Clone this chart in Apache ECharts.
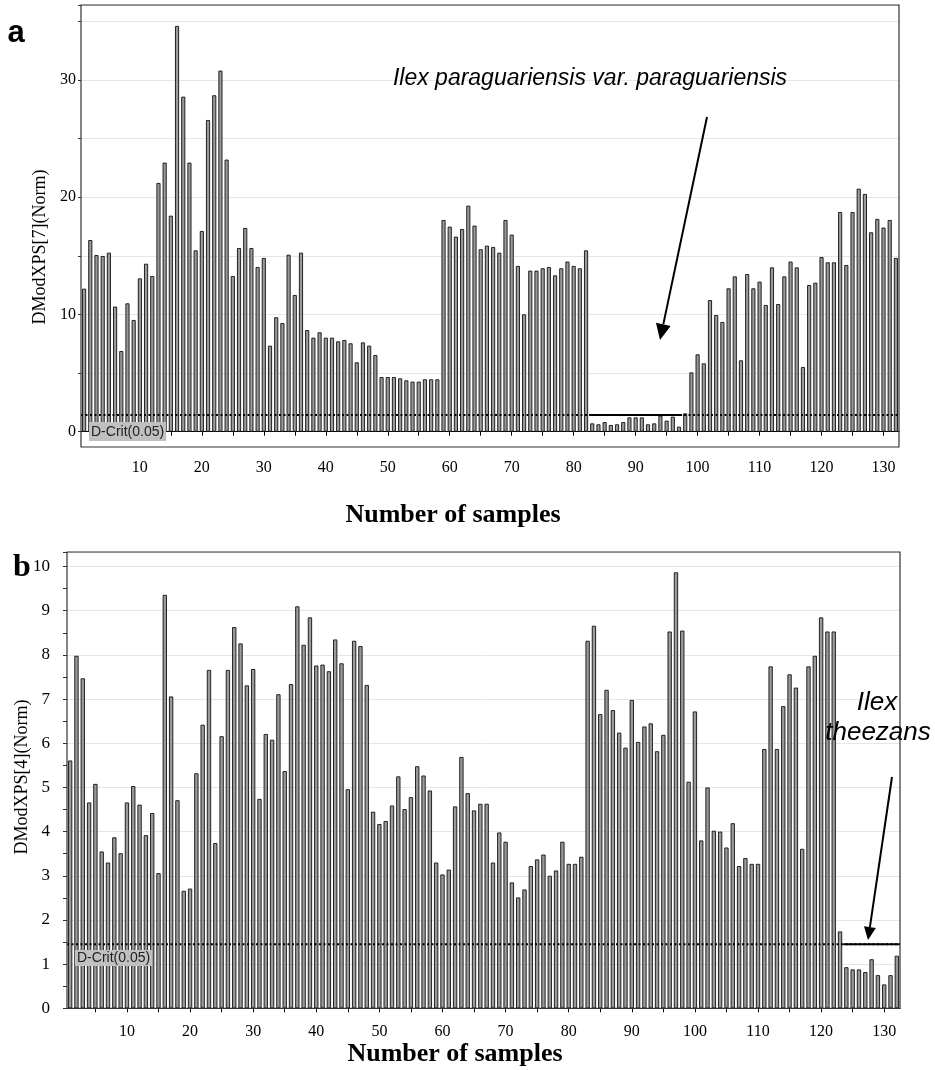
<!DOCTYPE html>
<html>
<head>
<meta charset="utf-8">
<script src="https://cdn.jsdelivr.net/npm/echarts@6/dist/echarts.min.js"></script>
<style>
  html, body { margin: 0; padding: 0; background: #fff; }
  #chart { width: 935px; height: 1070px; }
</style>
</head>
<body>
<div id="chart"></div>
<script>
// Samples 1..132 on the horizontal axis
const sampleCount = 132;
const samples = Array.from({ length: sampleCount }, (_, i) => String(i + 1));

// Panel a: DModXPS[7](Norm) per sample
const dmodA = [
  12.20, 16.35, 15.07, 14.99, 15.27, 10.67, 6.88, 10.95, 9.53, 13.08,
  14.33, 13.28, 21.22, 22.95, 18.43, 34.61, 28.58, 22.95, 15.47, 17.12,
  26.59, 28.70, 30.80, 23.21, 13.28, 15.67, 17.38, 15.67, 14.05, 14.82,
  7.34, 9.76, 9.27, 15.10, 11.66, 15.27, 8.67, 8.02, 8.48, 8.02,
  8.02, 7.71, 7.82, 7.54, 5.92, 7.62, 7.34, 6.54, 4.66, 4.66,
  4.66, 4.55, 4.38, 4.27, 4.27, 4.47, 4.47, 4.47, 18.06, 17.49,
  16.64, 17.29, 19.28, 17.58, 15.56, 15.87, 15.76, 15.27, 18.06, 16.81,
  14.14, 10.01, 13.74, 13.74, 13.94, 14.05, 13.34, 13.94, 14.51, 14.14,
  13.94, 15.47, 0.71, 0.63, 0.82, 0.57, 0.63, 0.82, 1.22, 1.22,
  1.22, 0.63, 0.71, 1.37, 0.94, 1.28, 0.43, 1.56, 5.06, 6.60,
  5.83, 11.23, 9.95, 9.36, 12.23, 13.25, 6.09, 13.45, 12.23, 12.80,
  10.81, 14.02, 10.89, 13.25, 14.51, 14.02, 5.52, 12.51, 12.71, 14.90,
  14.45, 14.45, 18.74, 14.22, 18.74, 20.73, 20.28, 17.01, 18.15, 17.41,
  18.06, 14.82
];

// Panel b: DModXPS[4](Norm) per sample
const dmodB = [
  5.61, 7.98, 7.47, 4.66, 5.08, 3.55, 3.30, 3.87, 3.51, 4.66,
  5.03, 4.61, 3.92, 4.42, 3.06, 9.36, 7.06, 4.71, 2.66, 2.71,
  5.32, 6.42, 7.66, 3.74, 6.16, 7.66, 8.63, 8.26, 7.31, 7.68,
  4.74, 6.21, 6.08, 7.11, 5.37, 7.34, 9.10, 8.23, 8.85, 7.76,
  7.78, 7.63, 8.35, 7.81, 4.96, 8.32, 8.20, 7.32, 4.45, 4.17,
  4.24, 4.59, 5.25, 4.51, 4.78, 5.48, 5.27, 4.93, 3.30, 3.03,
  3.14, 4.57, 5.69, 4.87, 4.48, 4.63, 4.63, 3.30, 3.98, 3.77,
  2.85, 2.51, 2.69, 3.22, 3.37, 3.48, 3.00, 3.12, 3.77, 3.27,
  3.27, 3.43, 8.32, 8.66, 6.66, 7.21, 6.75, 6.24, 5.90, 6.98,
  6.03, 6.38, 6.45, 5.82, 6.19, 8.53, 9.87, 8.55, 5.13, 6.72,
  3.80, 5.00, 4.02, 4.00, 3.64, 4.19, 3.22, 3.40, 3.27, 3.27,
  5.87, 7.74, 5.87, 6.84, 7.56, 7.26, 3.61, 7.74, 7.98, 8.85,
  8.53, 8.53, 1.74, 0.93, 0.88, 0.88, 0.82, 1.11, 0.75, 0.54,
  0.75, 1.19
];

// Tick labels
const xTickLabels = ['10', '20', '30', '40', '50', '60', '70', '80', '90', '100', '110', '120', '130'];
const yTickLabelsA = [0, 10, 20, 30];
const yTickLabelsB = [0, 1, 2, 3, 4, 5, 6, 7, 8, 9, 10];

// Critical distance D-Crit(0.05) and the sample ranges of each test set
const dCritA = 1.42;
const dCritB = 1.45;
const testSetA = [83, 97];
const testSetB = [124, 132];

const serif = '"Liberation Serif", "Times New Roman", serif';
const sans = '"Liberation Sans", Arial, sans-serif';

// Plot areas (pixels)
const gridA = { left: 81, top: 5, width: 818, height: 426.7 };
const gridB = { left: 67, top: 552, width: 833, height: 456.3 };
const frameA = { x: 81, y: 5, width: 818, height: 442 };
const frameB = { x: 67, y: 552, width: 833, height: 456.3 };

const barStyle = { color: '#9a9a9a', borderColor: '#111', borderWidth: 0.9, opacity: 1 };

function categoryAxis(gridIndex, margin, fontSize) {
  return {
    type: 'category',
    gridIndex: gridIndex,
    data: samples,
    boundaryGap: true,
    axisLine: { show: true, lineStyle: { color: '#000', width: 1 } },
    axisTick: {
      show: true, alignWithLabel: true, length: 4,
      interval: (i) => (i + 1) % 5 === 0,
      lineStyle: { color: '#000', width: 1 }
    },
    axisLabel: {
      interval: (i, v) => xTickLabels.includes(v),
      margin: margin, color: '#000', fontFamily: serif, fontSize: fontSize
    },
    splitLine: { show: false }
  };
}

// Continuous axis sharing the category bands, used for the threshold lines
function bandAxis(gridIndex) {
  return { type: 'value', gridIndex: gridIndex, min: 0.5, max: sampleCount + 0.5, show: false };
}

function thresholdSeries(xAxisIndex, yAxisIndex, dCrit, testSet) {
  return [
    {
      type: 'line', xAxisIndex: xAxisIndex, yAxisIndex: yAxisIndex, silent: true,
      symbol: 'none', z: 4,
      lineStyle: { color: '#000', width: 2, type: [2, 2.5] },
      data: [[0.5, dCrit], [sampleCount + 0.5, dCrit]]
    },
    {
      type: 'line', xAxisIndex: xAxisIndex, yAxisIndex: yAxisIndex, silent: true,
      symbol: 'none', z: 5,
      lineStyle: { color: '#000', width: 2 },
      data: [[testSet[0] - 0.5, dCrit], [testSet[1] + 0.5, dCrit]]
    }
  ];
}

function arrow(x0, y0, x1, y1, headLen, headHalf) {
  const dx = x1 - x0, dy = y1 - y0, L = Math.hypot(dx, dy);
  const ux = dx / L, uy = dy / L;
  const bx = x1 - ux * headLen, by = y1 - uy * headLen;
  return [
    { type: 'line', z: 20, shape: { x1: x0, y1: y0, x2: bx, y2: by }, style: { stroke: '#000', lineWidth: 2 } },
    { type: 'polygon', z: 20, shape: { points: [[x1, y1], [bx - uy * headHalf, by + ux * headHalf], [bx + uy * headHalf, by - ux * headHalf]] }, style: { fill: '#000' } }
  ];
}

function text(x, y, str, font, extra) {
  return {
    type: 'text', z: 20, x: x, y: y,
    style: Object.assign({ text: str, font: font, fill: '#000', align: 'center', verticalAlign: 'middle' }, extra || {})
  };
}

const chart = echarts.init(document.getElementById('chart'), null, { renderer: 'canvas' });

const option = {
  animation: false,
  backgroundColor: '#fff',
  grid: [
    Object.assign({ outerBoundsMode: 'none', containLabel: false }, gridA),
    Object.assign({ outerBoundsMode: 'none', containLabel: false }, gridB)
  ],
  xAxis: [
    categoryAxis(0, 28, 16),
    bandAxis(0),
    categoryAxis(1, 15, 16),
    bandAxis(1)
  ],
  yAxis: [
    {
      type: 'value', gridIndex: 0, min: 0, max: 36.4, interval: 5,
      axisLine: { show: false },
      axisTick: { show: true, length: 3, lineStyle: { color: '#333' } },
      axisLabel: {
        formatter: (v) => yTickLabelsA.includes(v) ? String(v) : '',
        color: '#000', fontFamily: serif, fontSize: 16, margin: 5
      },
      splitLine: { show: true, lineStyle: { color: '#e6e6e6', width: 1 } }
    },
    {
      type: 'value', gridIndex: 1, min: 0, max: 10.33, interval: 1,
      axisLine: { show: false },
      axisTick: { show: true, length: 4, lineStyle: { color: '#333' } },
      minorTick: { show: true, splitNumber: 2, length: 4, lineStyle: { color: '#333' } },
      minorSplitLine: { show: false },
      axisLabel: {
        formatter: (v) => yTickLabelsB.includes(v) ? String(v) : '',
        color: '#000', fontFamily: serif, fontSize: 17, margin: 17
      },
      splitLine: { show: true, lineStyle: { color: '#e6e6e6', width: 1 } }
    }
  ],
  series: [
    {
      type: 'bar', xAxisIndex: 0, yAxisIndex: 0, data: dmodA, barWidth: '66%', silent: true,
      itemStyle: barStyle
    },
    ...thresholdSeries(1, 0, dCritA, testSetA),
    {
      type: 'bar', xAxisIndex: 2, yAxisIndex: 1, data: dmodB, barWidth: '68%', silent: true,
      itemStyle: barStyle
    },
    ...thresholdSeries(3, 1, dCritB, testSetB)
  ],
  graphic: [
    // plot frames
    { type: 'rect', z: 15, shape: frameA, style: { fill: 'none', stroke: '#333', lineWidth: 1.2 } },
    { type: 'rect', z: 15, shape: frameB, style: { fill: 'none', stroke: '#333', lineWidth: 1.2 } },
    // panel letters
    text(16, 33, 'a', 'bold 31px ' + sans),
    text(22, 568, 'b', 'bold 32px ' + serif),
    // axis titles
    Object.assign(text(40, 247, 'DModXPS[7](Norm)', '18px ' + serif), { rotation: Math.PI / 2 }),
    Object.assign(text(22, 777, 'DModXPS[4](Norm)', '18px ' + serif), { rotation: Math.PI / 2 }),
    text(453, 515, 'Number of samples', 'bold 26px ' + serif),
    text(455, 1054, 'Number of samples', 'bold 26px ' + serif),
    // D-Crit labels
    text(89, 422, 'D-Crit(0.05)', '14px ' + sans, { align: 'left', verticalAlign: 'top', fill: '#222', backgroundColor: '#c0c0c0', padding: [3, 2, 2, 2] }),
    text(75, 950, 'D-Crit(0.05)', '14px ' + sans, { align: 'left', verticalAlign: 'top', fill: '#222', backgroundColor: '#c0c0c0', padding: [1, 2, 1, 2] }),
    // annotations
    text(590, 79, 'Ilex paraguariensis var. paraguariensis', 'italic 23px ' + sans),
    ...arrow(707, 117, 660, 340, 16, 7.5),
    text(877, 703, 'Ilex', 'italic 26px ' + sans),
    text(878, 733, 'theezans', 'italic 26px ' + sans),
    ...arrow(892, 777, 868, 940, 13, 6)
  ]
};

chart.setOption(option);
</script>
</body>
</html>
